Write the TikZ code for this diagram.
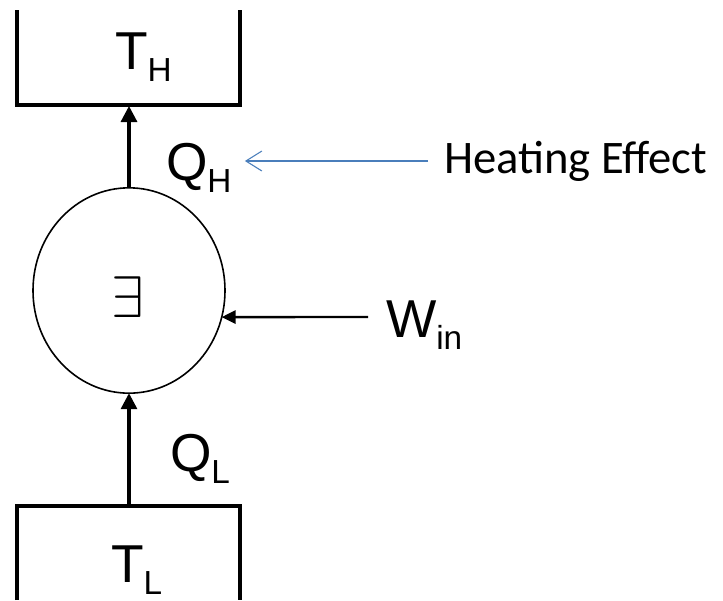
\documentclass[tikz,border=0pt]{standalone}
\usepackage{fontspec}
\setmainfont{Liberation Sans}
\newfontfamily\calibrifont{Carlito}
\usepackage{xcolor}
\usepackage{tikz}
\usetikzlibrary{arrows.meta,shapes.geometric}

\definecolor{effectblue}{RGB}{74,126,187}
\newcommand{\sublabel}[2]{#1\raisebox{-9pt}{\fontsize{25}{30}\selectfont #2}}

\begin{document}
\begin{tikzpicture}[
    x=0.75pt, y=-0.75pt,
    every node/.style={inner sep=0pt, outer sep=0pt},
    big/.style={
        font=\fontsize{40}{48}\selectfont,
        anchor=base west
    },
    wall/.style={line width=2.5pt},
    engine/.style={
        ellipse,
        draw=black,
        line width=1.2pt,
        minimum width=144pt,
        minimum height=154pt
    },
    flow/.style={line width=2.4pt, -{Triangle[length=12pt,width=12pt]}},
    work/.style={line width=1.8pt, -{Triangle[length=10.5pt,width=10pt]}},
    effect/.style={line width=0.8pt, draw=effectblue, -{Straight Barb[length=12pt,width=15pt]}}
]
\useasboundingbox (0,0) rectangle (723,600);

% Reservoirs
\draw[wall] (17,10) -- (17,105) -- (240,105) -- (240,10);
\draw[wall] (17,600) -- (17,506) -- (240,506) -- (240,600);
\coordinate (hot)  at (129,106);
\coordinate (cold) at (129,506);

% Nodes with fixed coordinates
\node[engine] (engine) at (129,290.5) {};
\node (sym) at (128,297) {\scalebox{4.4}{$\exists$}};

\node[big] (TH)  at (115,69)  {\sublabel{T}{H}};
\node[big] (QH)  at (166,180) {\sublabel{Q}{H}};
\node[big] (Win) at (386,337) {\sublabel{W}{in}};
\node[big] (QL)  at (170,471) {\sublabel{Q}{L}};
\node[big] (TL)  at (111,582) {\sublabel{T}{L}};
\node[font=\calibrifont\fontsize{35}{42}\selectfont, anchor=base west] (heat) at (444,173) {Heating Effect};

\coordinate (wtail)   at (368,317);
\coordinate (efftail) at (428,161);

% Arrows
\draw[flow] (engine.north) -- (hot);
\draw[flow] (cold) -- (engine.south);
\draw[work] (wtail) -- (engine.-16);
\draw[effect] (efftail) -- ([xshift=10pt]efftail -| QH.east);

\end{tikzpicture}
\end{document}
